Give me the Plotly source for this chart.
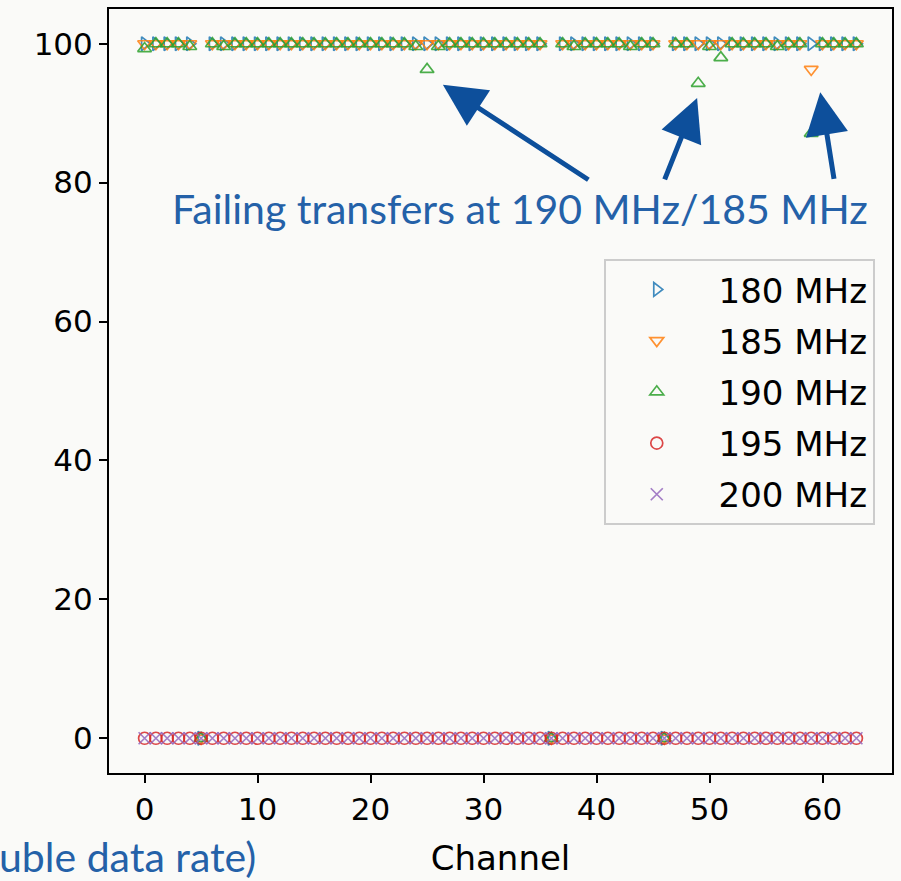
import plotly.graph_objects as go

channels = list(range(64))

f180 = [100, 100, 100, 100, 100, 0, 100, 100, 100, 100,
        100, 100, 100, 100, 100, 100, 100, 100, 100, 100,
        100, 100, 100, 100, 100, 100, 100, 100, 100, 100,
        100, 100, 100, 100, 100, 100, 0, 100, 100, 100,
        100, 100, 100, 100, 100, 100, 0, 100, 100, 100,
        100, 100, 100, 100, 100, 100, 100, 100, 100, 100,
        100, 100, 100, 100]
f185 = [100, 100, 100, 100, 100, 0, 100, 100, 100, 100,
        100, 100, 100, 100, 100, 100, 100, 100, 100, 100,
        100, 100, 100, 100, 100, 100, 100, 100, 100, 100,
        100, 100, 100, 100, 100, 100, 0, 100, 100, 100,
        100, 100, 100, 100, 100, 100, 0, 100, 100, 100,
        100, 100, 100, 100, 100, 100, 100, 100, 100, 96.3,
        100, 100, 100, 100]
f190 = [99.3, 100, 100, 100, 99.6, 0, 100, 99.6, 100, 100,
        100, 100, 100, 100, 100, 100, 100, 100, 100, 100,
        100, 100, 100, 100, 99.6, 96.3, 99.6, 100, 100, 100,
        100, 100, 100, 100, 100, 100, 0, 100, 99.6, 100,
        100, 100, 100, 99.6, 100, 100, 0, 100, 100, 94.3,
        99.6, 98.0, 100, 100, 100, 100, 99.6, 100, 100, 87.1,
        100, 100, 100, 100]
f195 = [0] * 64
f200 = [0] * 64

series = [
    ("180 MHz", f180, "triangle-right-open", "#1f77b4"),
    ("185 MHz", f185, "triangle-down-open", "#ff7f0e"),
    ("190 MHz", f190, "triangle-up-open", "#2ca02c"),
    ("195 MHz", f195, "circle-open", "#d62728"),
    ("200 MHz", f200, "x-thin-open", "#9467bd"),
]

BG = "#fafaf8"
fig = go.Figure()
for name, vals, sym, col in series:
    fig.add_trace(go.Scatter(
        x=channels, y=vals, mode="markers", name="\u00a0" + name,
        legendgroup=name,
        marker=dict(symbol=sym, size=12, color=col, opacity=0.85,
                    line=dict(width=1.7, color=col)),
    ))

ann_font = dict(family="Lato, Open Sans, sans-serif", size=41, color="#2461a8")
arrow_col = "#0d4f9b"
annotations = [
    dict(x=0.525, y=0.7386, xref="paper", yref="paper",
         text="Failing transfers at 190 MHz/185 MHz", showarrow=False,
         font=ann_font, xanchor="center", yanchor="middle"),
    dict(x=(-3 - 109) / 785, y=-0.109, xref="paper", yref="paper",
         text="uble data rate)", showarrow=False,
         font=ann_font, xanchor="left", yanchor="middle"),
]
for tx, ty, ax, ay in [(26.4, 94.1, 147, 96), (48.9, 92.2, -33, 83), (59.8, 93.0, 14, 88)]:
    annotations.append(dict(
        x=tx, y=ty, xref="x", yref="y", ax=ax, ay=ay, axref="pixel", ayref="pixel",
        text="", showarrow=True, arrowhead=2, arrowsize=1.7, arrowwidth=5,
        arrowcolor=arrow_col))

fig.update_layout(
    width=901, height=881,
    margin=dict(l=109, r=7, t=8, b=108),
    paper_bgcolor=BG, plot_bgcolor=BG,
    font=dict(family="DejaVu Sans", size=31, color="black"),
    showlegend=True,
    legend=dict(
        x=0.978, y=0.673, xanchor="right", yanchor="top",
        bgcolor=BG, bordercolor="#cccccc", borderwidth=2,
        font=dict(family="DejaVu Sans", size=34, color="black"),
        itemwidth=92, tracegroupgap=4,
    ),
    annotations=annotations,
)
fig.update_xaxes(
    range=[-3.15, 66.15], tickvals=[0, 10, 20, 30, 40, 50, 60],
    showgrid=False, zeroline=False, showline=True, mirror=True,
    linecolor="black", linewidth=2, ticks="outside", ticklen=8, tickwidth=2,
    tickcolor="black", tickfont=dict(size=31),
    title=dict(text="Channel", standoff=20, font=dict(size=34)),
)
fig.update_yaxes(
    range=[-5, 105], tickvals=[0, 20, 40, 60, 80, 100],
    showgrid=False, zeroline=False, showline=True, mirror=True,
    linecolor="black", linewidth=2, ticks="outside", ticklen=8, tickwidth=2,
    tickcolor="black", tickfont=dict(size=31),
)
fig.write_html("out.html")
